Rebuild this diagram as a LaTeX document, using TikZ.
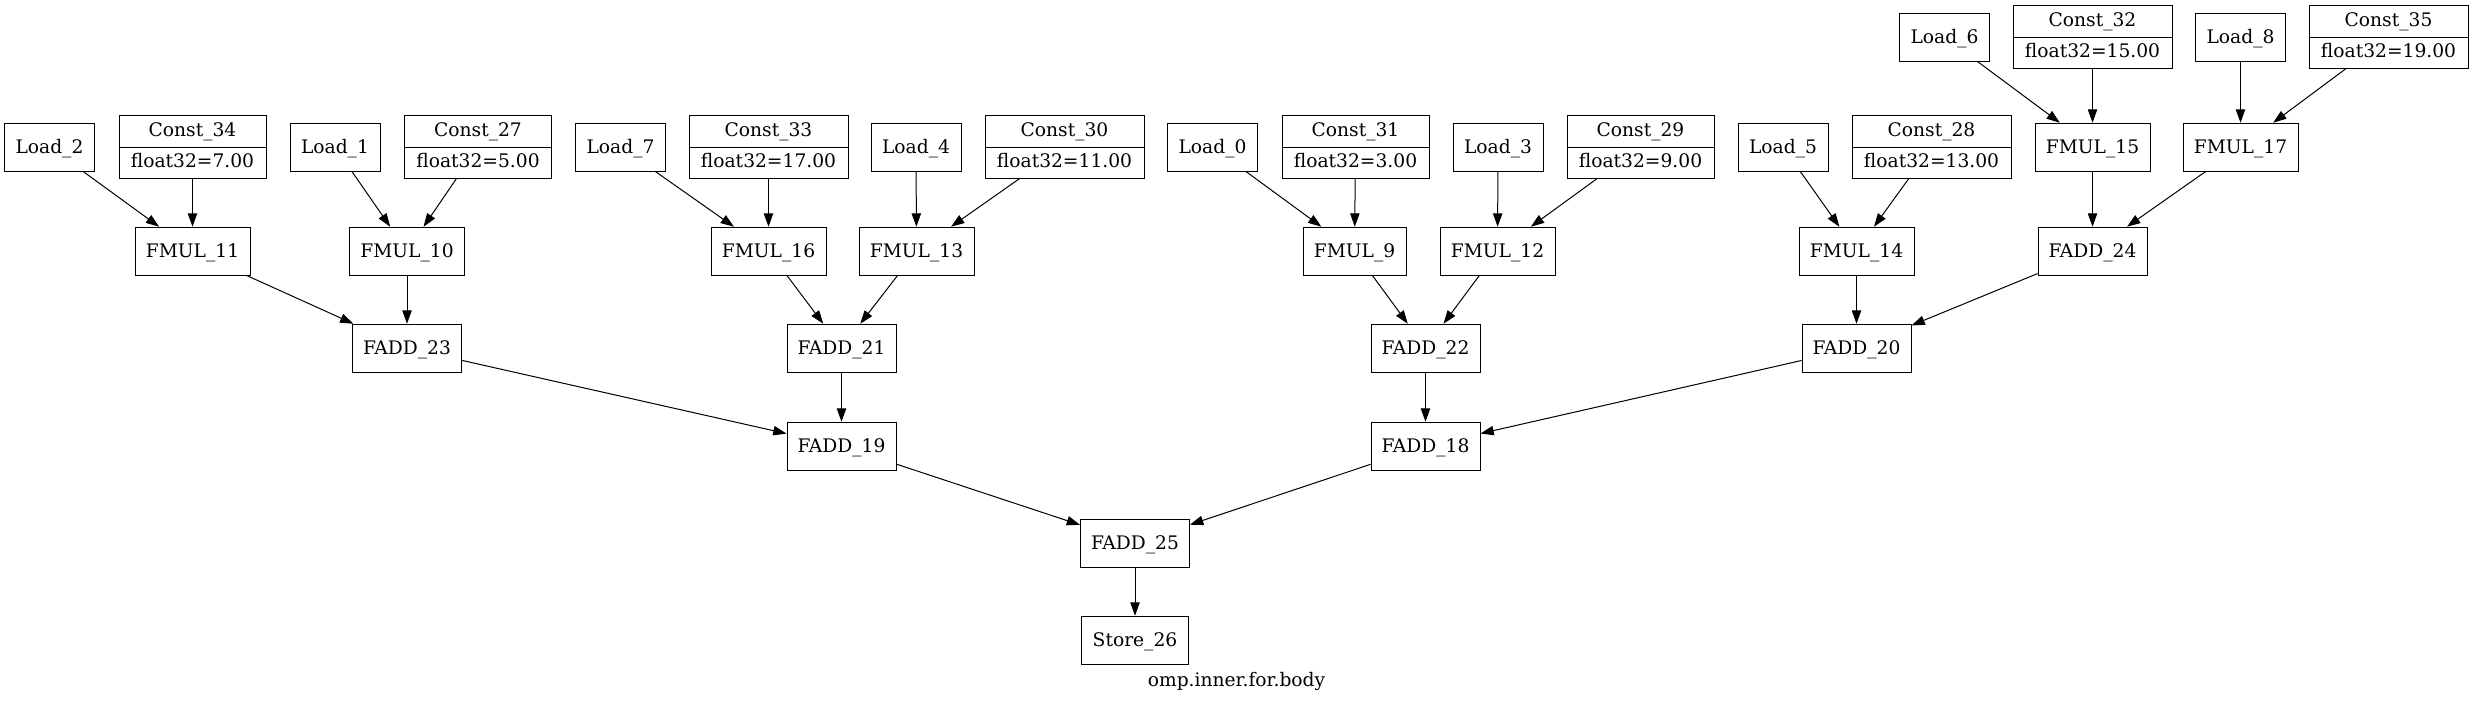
\documentclass[tikz,border=0pt]{standalone}
\usepackage{fontspec}
\setmainfont{DejaVu Serif}
\usetikzlibrary{arrows.meta,shapes.multipart}
\tikzset{
    opbox/.style={draw, rectangle, inner sep=0pt, minimum height=36pt, text height=12pt, text depth=3pt, font=\fontsize{14}{16}\selectfont},
    loadbox/.style={opbox, minimum width=67.5pt},
    mulbox/.style={opbox, minimum width=86.25pt},
    addbox/.style={opbox, minimum width=82pt},
    constbox/.style={draw, rectangle split, rectangle split parts=2, inner sep=0pt, minimum width=119.25pt, font=\fontsize{14}{16}\selectfont},
    dep/.style={-{Triangle[length=10pt,width=7pt]}, line width=0.75pt},
}
\begin{document}
\begin{tikzpicture}[x=0.75pt, y=-0.75pt]
    \def\rstrut{\rule[-7.75pt]{0pt}{23.25pt}}
    \def\cv#1#2{\rstrut Const\_#1\nodepart{two}\rstrut float32=#2}
    \useasboundingbox (0,0) rectangle (2473,701);
    \node[loadbox] (load6) at (1944.5,37) {Load\_6};
    \node[constbox] (const32) at (2092.5,37) {\cv{32}{15.00}};
    \node[loadbox] (load8) at (2240.5,37) {Load\_8};
    \node[constbox] (const35) at (2388.5,37) {\cv{35}{19.00}};
    \node[loadbox] (load2) at (49.5,147) {Load\_2};
    \node[constbox, minimum width=110.25pt] (const34) at (192.5,147) {\cv{34}{7.00}};
    \node[loadbox] (load1) at (335,147) {Load\_1};
    \node[constbox, minimum width=110.25pt] (const27) at (478,147) {\cv{27}{5.00}};
    \node[loadbox] (load7) at (620.5,147) {Load\_7};
    \node[constbox] (const33) at (768.5,147) {\cv{33}{17.00}};
    \node[loadbox] (load4) at (916,147) {Load\_4};
    \node[constbox] (const30) at (1064.5,147) {\cv{30}{11.00}};
    \node[loadbox] (load0) at (1212.5,147) {Load\_0};
    \node[constbox, minimum width=110.25pt] (const31) at (1355.5,147) {\cv{31}{3.00}};
    \node[loadbox] (load3) at (1498,147) {Load\_3};
    \node[constbox, minimum width=110.25pt] (const29) at (1640.5,147) {\cv{29}{9.00}};
    \node[loadbox] (load5) at (1783,147) {Load\_5};
    \node[constbox] (const28) at (1931.5,147) {\cv{28}{13.00}};
    \node[mulbox] (fmul15) at (2092.5,147) {FMUL\_15};
    \node[mulbox] (fmul17) at (2240.5,147) {FMUL\_17};
    \node[mulbox] (fmul11) at (192.5,251) {FMUL\_11};
    \node[mulbox] (fmul10) at (407,251) {FMUL\_10};
    \node[mulbox] (fmul16) at (768.5,251) {FMUL\_16};
    \node[mulbox] (fmul13) at (916.5,251) {FMUL\_13};
    \node[mulbox, minimum width=77.25pt] (fmul9) at (1354.5,251) {FMUL\_9};
    \node[mulbox] (fmul12) at (1497.5,251) {FMUL\_12};
    \node[mulbox] (fmul14) at (1856.5,251) {FMUL\_14};
    \node[addbox] (fadd24) at (2092.5,251) {FADD\_24};
    \node[addbox] (fadd23) at (407,348) {FADD\_23};
    \node[addbox] (fadd21) at (841.5,348) {FADD\_21};
    \node[addbox] (fadd22) at (1425.5,348) {FADD\_22};
    \node[addbox] (fadd20) at (1856.5,348) {FADD\_20};
    \node[addbox] (fadd19) at (841.5,446) {FADD\_19};
    \node[addbox] (fadd18) at (1425.5,446) {FADD\_18};
    \node[addbox] (fadd25) at (1135,543) {FADD\_25};
    \node[addbox, minimum width=80pt] (store26) at (1135,640) {Store\_26};
    \node[anchor=base, font=\fontsize{14}{16}\selectfont] (caption) at (1236.5,686) {omp.inner.for.body};
    \draw[dep] (load6) -- (fmul15);
    \draw[dep] (const32) -- (fmul15);
    \draw[dep] (load8) -- (fmul17);
    \draw[dep] (const35) -- (fmul17);
    \draw[dep] (load2) -- (fmul11);
    \draw[dep] (const34) -- (fmul11);
    \draw[dep] (load1) -- (fmul10);
    \draw[dep] (const27) -- (fmul10);
    \draw[dep] (load7) -- (fmul16);
    \draw[dep] (const33) -- (fmul16);
    \draw[dep] (load4) -- (fmul13);
    \draw[dep] (const30) -- (fmul13);
    \draw[dep] (load0) -- (fmul9);
    \draw[dep] (const31) -- (fmul9);
    \draw[dep] (load3) -- (fmul12);
    \draw[dep] (const29) -- (fmul12);
    \draw[dep] (load5) -- (fmul14);
    \draw[dep] (const28) -- (fmul14);
    \draw[dep] (fmul15) -- (fadd24);
    \draw[dep] (fmul17) -- (fadd24);
    \draw[dep] (fmul11) -- (fadd23);
    \draw[dep] (fmul10) -- (fadd23);
    \draw[dep] (fmul16) -- (fadd21);
    \draw[dep] (fmul13) -- (fadd21);
    \draw[dep] (fmul9) -- (fadd22);
    \draw[dep] (fmul12) -- (fadd22);
    \draw[dep] (fmul14) -- (fadd20);
    \draw[dep] (fadd24) -- (fadd20);
    \draw[dep] (fadd23) -- (fadd19);
    \draw[dep] (fadd21) -- (fadd19);
    \draw[dep] (fadd22) -- (fadd18);
    \draw[dep] (fadd20) -- (fadd18);
    \draw[dep] (fadd19) -- (fadd25);
    \draw[dep] (fadd18) -- (fadd25);
    \draw[dep] (fadd25) -- (store26);
\end{tikzpicture}
\end{document}
